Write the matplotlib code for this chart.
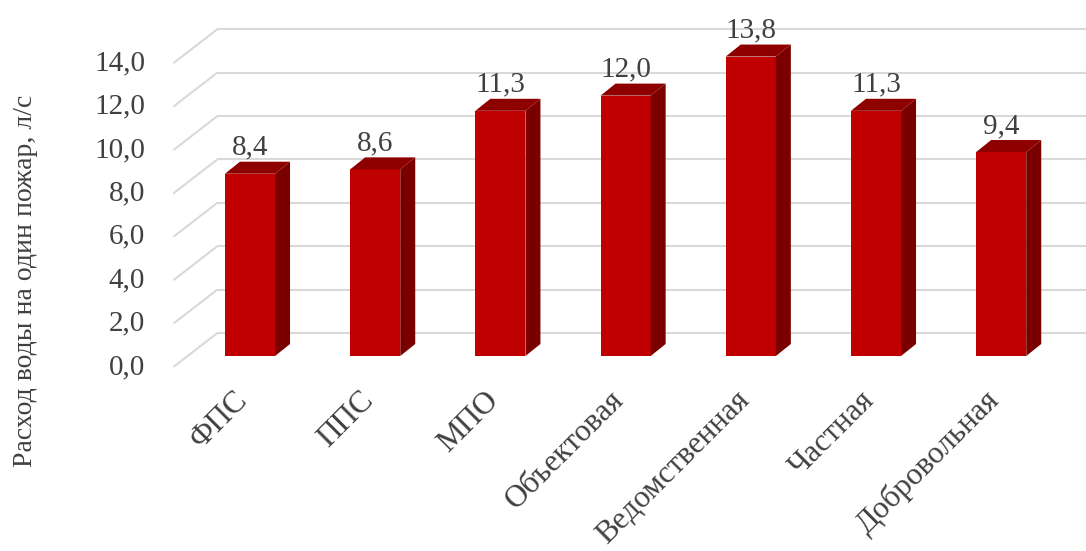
import matplotlib
matplotlib.use("Agg")
import matplotlib.pyplot as plt
from matplotlib.patches import Polygon

categories = ["ФПС", "ППС", "МПО", "Объектовая", "Ведомственная", "Частная", "Добровольная"]
values = [8.4, 8.6, 11.3, 12.0, 13.8, 11.3, 9.4]
yticks = [0, 2, 4, 6, 8, 10, 12, 14]
ylabel = "Расход воды на один пожар, л/с"

plt.rcParams['font.family'] = ['Liberation Serif', 'DejaVu Serif']
TXT = '#404040'
FRONT = '#C00000'
SIDE = '#7A0000'
TOP = '#8E0000'
GRID = '#D9D9D9'

W, H = 1086, 551
fig = plt.figure(figsize=(W/100, H/100), dpi=100)
ax = fig.add_axes([0, 0, 1, 1])
ax.set_axis_off()

# pixel mapping: slot = 125.2 px, unit = 21.7 px, zero of bar-front plane at y=356, first slot center at x=250
SX, SY = 125.2, 21.7
x0p, y0p = 250, 356
ax.set_xlim(-x0p / SX, (W - x0p) / SX)
ax.set_ylim((y0p - H) / SY, y0p / SY)

# depth offsets (data units)
fdx, fdv = -14 / SX, -11 / SY     # front floor plane relative to bar front
bdx_w, bdv_w = 30 / SX, 23 / SY   # back wall relative to bar front
bdx, bdv = 15 / SX, 12 / SY       # bar depth

xl = -0.5
xr = ax.get_xlim()[1]
for v in yticks:
    ax.plot([xl + fdx, xl + bdx_w], [v + fdv, v + bdv_w], color=GRID, lw=1.5, zorder=1,
            solid_capstyle='butt')
    ax.plot([xl + bdx_w, xr], [v + bdv_w, v + bdv_w], color=GRID, lw=1.5, zorder=1,
            solid_capstyle='butt')
    ax.text(-105 / SX, v + fdv, f"{v:.1f}".replace('.', ','), ha='right', va='center',
            fontsize=21, color=TXT)

bw = 0.4
xs = list(range(len(categories)))
ax.bar(xs, values, width=bw, color=FRONT, zorder=3, linewidth=0)
for x, v in zip(xs, values):
    side = Polygon([(x + bw/2, 0), (x + bw/2 + bdx, bdv), (x + bw/2 + bdx, v + bdv), (x + bw/2, v)],
                   closed=True, facecolor=SIDE, edgecolor='none', zorder=3)
    top = Polygon([(x - bw/2, v), (x - bw/2 + bdx, v + bdv), (x + bw/2 + bdx, v + bdv), (x + bw/2, v)],
                  closed=True, facecolor=TOP, edgecolor='none', zorder=3)
    ax.add_patch(side)
    ax.add_patch(top)
    ax.text(x, v + bdv + 0.32, f"{v:.1f}".replace('.', ','), ha='center', va='baseline',
            fontsize=21, color=TXT, zorder=4)

for x, c in zip(xs, categories):
    ax.text(x - 6 / SX, (y0p - 396) / SY, c, rotation=45, rotation_mode='anchor',
            ha='right', va='center', fontsize=22.5, color=TXT)

ax.text(-224 / SX, (y0p - 281) / SY, ylabel, rotation=90, ha='center', va='center',
        fontsize=20, color=TXT)

fig.savefig("out.png", dpi=100)
